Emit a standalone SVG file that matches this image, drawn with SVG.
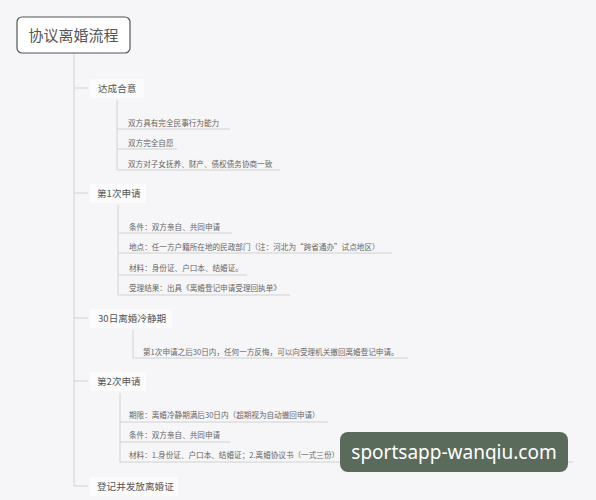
<svg xmlns="http://www.w3.org/2000/svg" width="596" height="500" viewBox="0 0 596 500">
<style>
.t{font-family:"Noto Sans CJK SC","Noto Sans",sans-serif;fill:#555}
.l1{font-size:9.6px}
.l2{font-size:7.6px;fill:#666}
.ln{stroke:#d2d2d2;stroke-width:1;fill:none}
.lb{fill:#fbfbfc}
</style>
<rect width="596" height="500" fill="#f6f5f7"/>
<g id="connectors">
<path class="ln" d="M74 53V486M74 88H88M74 193H88M74 318H88M74 381H88M74 486H88"/>
<path class="ln" d="M117 100V170M117 129H230M117 149H177M117 170H280"/>
<path class="ln" d="M118 205V295M118 233H232M118 253H392M118 275H247M118 295H290"/>
<path class="ln" d="M133 330V358M133 358H408"/>
<path class="ln" d="M120 393V462M120 422H328M120 442H230M120 462H573"/>
</g>
<g id="root">
<rect x="17" y="17" width="113" height="36" rx="5" fill="#fff" stroke="#555" stroke-width="1.2"/>
<text class="t" x="73.5" y="40.5" font-size="15" text-anchor="middle" fill="#444">协议离婚流程</text>
</g>
<g id="n1">
<rect class="lb" x="90" y="79" width="54" height="19"/>
<text class="t l1" x="98" y="91.5">达成合意</text>
</g>
<g id="n1a"><text class="t l2" x="128" y="126">双方具有完全民事行为能力</text></g>
<g id="n1b"><text class="t l2" x="128" y="146">双方完全自愿</text></g>
<g id="n1c"><text class="t l2" x="128" y="167">双方对子女抚养、财产、债权债务协商一致</text></g>
<g id="n2">
<rect class="lb" x="90" y="184" width="56" height="19"/>
<text class="t l1" x="97" y="196.5">第1次申请</text>
</g>
<g id="n2a"><text class="t l2" x="129" y="230">条件：双方亲自、共同申请</text></g>
<g id="n2b"><text class="t l2" x="129" y="250">地点：任一方户籍所在地的民政部门（注：河北为“跨省通办”试点地区）</text></g>
<g id="n2c"><text class="t l2" x="129" y="271">材料：身份证、户口本、结婚证。</text></g>
<g id="n2d"><text class="t l2" x="129" y="291">受理结果：出具《离婚登记申请受理回执单》</text></g>
<g id="n3">
<rect class="lb" x="90" y="309" width="82" height="19"/>
<text class="t l1" x="98" y="321.5">30日离婚冷静期</text>
</g>
<g id="n3a"><text class="t l2" x="143" y="355">第1次申请之后30日内，任何一方反悔，可以向受理机关撤回离婚登记申请。</text></g>
<g id="n4">
<rect class="lb" x="90" y="372" width="56" height="19"/>
<text class="t l1" x="97" y="384.5">第2次申请</text>
</g>
<g id="n4a"><text class="t l2" x="129" y="418">期限：离婚冷静期满后30日内（超期视为自动撤回申请）</text></g>
<g id="n4b"><text class="t l2" x="129" y="438">条件：双方亲自、共同申请</text></g>
<g id="n4c"><text class="t l2" x="129" y="458">材料：1.身份证、户口本、结婚证；2.离婚协议书（一式三份）</text></g>
<g id="n5">
<rect class="lb" x="90" y="477" width="88" height="19"/>
<text class="t l1" x="97" y="489.5">登记并发放离婚证</text>
</g>
<g id="watermark">
<rect x="340" y="432" width="228" height="40" rx="8" fill="#5b6b5b"/>
<text x="454" y="459" font-family="'Noto Sans','Open Sans',sans-serif" font-size="19" fill="#fff" text-anchor="middle">sportsapp-wanqiu.com</text>
</g>
</svg>
